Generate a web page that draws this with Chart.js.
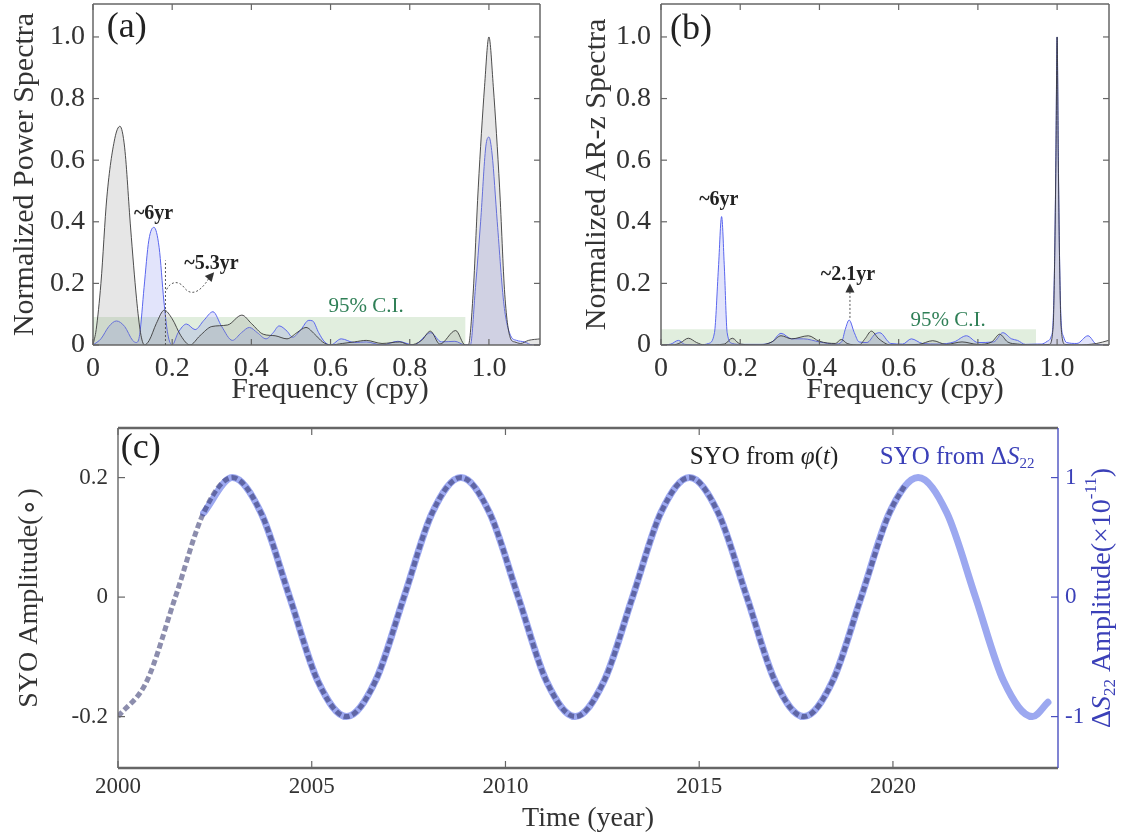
<!DOCTYPE html>
<html>
<head>
<meta charset="utf-8">
<script src="https://cdn.jsdelivr.net/npm/chart.js@4.4.1/dist/chart.umd.min.js"></script>
<style>
  body { margin: 0; background: #fff; width: 1128px; height: 838px; position: relative; overflow: hidden; }
  canvas { position: absolute; }
</style>
</head>
<body>
<canvas id="chartA" width="560" height="410" style="left:0;top:0"></canvas>
<canvas id="chartB" width="568" height="410" style="left:560px;top:0"></canvas>
<canvas id="chartC" width="1128" height="428" style="left:0;top:410px"></canvas>
<script>
// ---- panel (a): normalized power spectra ----
const aGrayFreq = [0, 0.008, 0.02, 0.035, 0.055, 0.068, 0.08, 0.095, 0.11, 0.12, 0.13, 0.142, 0.16, 0.18, 0.2, 0.222, 0.245, 0.27, 0.3, 0.34, 0.376, 0.4, 0.43, 0.46, 0.49, 0.515, 0.538, 0.56, 0.58, 0.6, 0.63, 0.66, 0.69, 0.73, 0.775, 0.8, 0.83, 0.852, 0.876, 0.916, 0.94, 0.948, 0.96, 0.973, 0.989, 1.0, 1.011, 1.027, 1.04, 1.055, 1.065, 1.08, 1.1, 1.13];
const aGrayPow  = [0, 0.05, 0.2, 0.48, 0.67, 0.71, 0.64, 0.38, 0.15, 0.04, 0, 0.015, 0.07, 0.113, 0.085, 0.03, 0, 0.03, 0.06, 0.065, 0.097, 0.07, 0.035, 0.03, 0.02, 0.04, 0.057, 0.035, 0.01, 0, 0.005, 0.01, 0.015, 0.005, 0.01, 0, 0.015, 0.045, 0.003, 0.047, 0, 0, 0.165, 0.51, 0.84, 1.0, 0.84, 0.51, 0.165, 0.02, 0.01, 0.005, 0.015, 0.02];
const aBlueFreq = [0, 0.02, 0.04, 0.059, 0.08, 0.1, 0.11, 0.118, 0.129, 0.141, 0.154, 0.167, 0.179, 0.189, 0.2, 0.215, 0.236, 0.258, 0.28, 0.303, 0.325, 0.352, 0.375, 0.395, 0.415, 0.437, 0.455, 0.47, 0.49, 0.504, 0.525, 0.545, 0.555, 0.57, 0.585, 0.6, 0.627, 0.66, 0.69, 0.73, 0.77, 0.81, 0.853, 0.88, 0.914, 0.94, 0.953, 0.966, 0.979, 0.992, 1.0, 1.008, 1.021, 1.038, 1.055, 1.07, 1.09, 1.11, 1.13];
const aBluePow  = [0, 0.02, 0.06, 0.078, 0.06, 0.015, 0.008, 0.035, 0.187, 0.34, 0.382, 0.317, 0.143, 0.035, 0, 0.04, 0.068, 0.05, 0.08, 0.108, 0.06, 0.015, 0.04, 0.057, 0.04, 0.02, 0.04, 0.062, 0.045, 0.025, 0.05, 0.08, 0.078, 0.04, 0.01, 0, 0.02, 0.008, 0.01, 0, 0.012, 0, 0.04, 0.01, 0.012, 0, 0, 0.187, 0.4, 0.643, 0.675, 0.62, 0.4, 0.13, 0.03, 0.015, 0.01, 0, 0];
const aCiFreq = [0, 0.941];
const aCiLevel = [0.091, 0.091];

// ---- panel (b): normalized AR-z spectra ----
const bGrayFreq = [0, 0.03, 0.05, 0.069, 0.09, 0.11, 0.16, 0.18, 0.2, 0.25, 0.28, 0.303, 0.33, 0.372, 0.4, 0.44, 0.455, 0.47, 0.5, 0.515, 0.531, 0.55, 0.58, 0.65, 0.686, 0.72, 0.76, 0.8, 0.835, 0.855, 0.875, 0.9, 0.95, 0.98, 0.99, 0.994, 0.997, 1.0, 1.003, 1.006, 1.01, 1.02, 1.05, 1.1, 1.13];
const bGrayPow  = [0, 0, 0.008, 0.022, 0.008, 0, 0.003, 0.022, 0.003, 0, 0.01, 0.03, 0.02, 0.03, 0.012, 0.005, 0.018, 0.005, 0, 0.02, 0.045, 0.02, 0, 0.002, 0.014, 0.002, 0.01, 0.002, 0.01, 0.035, 0.01, 0.003, 0, 0.002, 0.06, 0.29, 0.6, 1.0, 0.6, 0.29, 0.06, 0.002, 0, 0.005, 0.015];
const bBlueFreq = [0, 0.025, 0.044, 0.06, 0.1, 0.12, 0.135, 0.145, 0.153, 0.16, 0.167, 0.18, 0.2, 0.25, 0.28, 0.303, 0.33, 0.36, 0.4, 0.44, 0.456, 0.465, 0.475, 0.488, 0.5, 0.52, 0.54, 0.552, 0.58, 0.61, 0.632, 0.66, 0.7, 0.74, 0.771, 0.8, 0.84, 0.863, 0.885, 0.9, 0.92, 0.95, 0.96, 0.975, 0.985, 0.99, 0.994, 0.997, 1.0, 1.003, 1.006, 1.01, 1.016, 1.024, 1.05, 1.078, 1.1, 1.13];
const bBluePow  = [0, 0.003, 0.015, 0.002, 0, 0.005, 0.04, 0.25, 0.417, 0.25, 0.04, 0.005, 0.002, 0.002, 0.01, 0.038, 0.02, 0.02, 0.01, 0.003, 0.01, 0.05, 0.081, 0.04, 0.01, 0.008, 0.035, 0.04, 0.005, 0.003, 0.02, 0.005, 0.003, 0.01, 0.03, 0.008, 0.01, 0.04, 0.02, 0.015, 0.002, 0.003, 0.003, 0.012, 0.028, 0.08, 0.3, 0.62, 1.0, 0.62, 0.3, 0.08, 0.028, 0.008, 0.005, 0.03, 0.002, 0];
const bCiFreq = [0, 0.947];
const bCiLevel = [0.051, 0.051];

const specTicks = [0, 0.2, 0.4, 0.6, 0.8, 1.0];

// ---- panel (c): SYO time series ----
const phiYears = [2000.00, 2000.74, 2001.48, 2002.21, 2002.95, 2003.69, 2004.43, 2005.16, 2005.90, 2006.64, 2007.38, 2008.11, 2008.85, 2009.59, 2010.33, 2011.06, 2011.80, 2012.54, 2013.28, 2014.01, 2014.75, 2015.49, 2016.23, 2016.96, 2017.70, 2018.44, 2019.18, 2019.91, 2020.30];
const phiAmp   = [-0.2, -0.141, 0, 0.141, 0.2, 0.141, 0, -0.141, -0.2, -0.141, 0, 0.141, 0.2, 0.141, 0, -0.141, -0.2, -0.141, 0, 0.141, 0.2, 0.141, 0, -0.141, -0.2, -0.141, 0, 0.141, 0.186];
const s22Years = [2002.21, 2002.95, 2003.69, 2004.43, 2005.16, 2005.90, 2006.64, 2007.38, 2008.11, 2008.85, 2009.59, 2010.33, 2011.06, 2011.80, 2012.54, 2013.28, 2014.01, 2014.75, 2015.49, 2016.23, 2016.96, 2017.70, 2018.44, 2019.18, 2019.91, 2020.65, 2021.39, 2022.13, 2022.86, 2023.60, 2024.00];
const s22Amp   = [0.705, 1, 0.705, 0, -0.705, -1, -0.705, 0, 0.705, 1, 0.705, 0, -0.705, -1, -0.705, 0, 0.705, 1, 0.705, 0, -0.705, -1, -0.705, 0, 0.705, 1, 0.705, 0, -0.705, -1, -0.88];
const yearTicks = [2000, 2005, 2010, 2015, 2020];
const phiTicks = [-0.2, 0, 0.2];
const s22Ticks = [-1, 0, 1];

const SERIF = '"Liberation Serif", "Times New Roman", serif';
Chart.defaults.color = '#333';
Chart.defaults.font.family = SERIF;

const pts = (xs, ys) => xs.map((x, i) => ({ x: x, y: ys[i] }));
const setTicks = list => s => { s.ticks = list.map(v => ({ value: v })); };
// fixed axis sizes, and no extra room for half labels at the ends
const fitV = w => s => { s.width = w; s.paddingTop = 0; s.paddingBottom = 0; };
const fitH = h => s => { s.height = h; s.paddingLeft = 0; s.paddingRight = 0; };

// box frame with inward tick marks on every side
const framePlugin = {
  id: 'frame',
  afterDatasetsDraw(chart, args, o) {
    const { ctx, chartArea: a, scales } = chart;
    const seg = (x1, y1, x2, y2, col, w) => {
      ctx.beginPath(); ctx.strokeStyle = col; ctx.lineWidth = w;
      ctx.moveTo(x1, y1); ctx.lineTo(x2, y2); ctx.stroke();
    };
    const L = o.tick;
    ctx.save();
    scales.x.ticks.forEach(t => {
      const p = scales.x.getPixelForValue(t.value);
      seg(p, a.bottom, p, a.bottom - L, o.color, 1.2);
      seg(p, a.top, p, a.top + L, o.color, 1.2);
    });
    scales.y.ticks.forEach(t => {
      const p = scales.y.getPixelForValue(t.value);
      seg(a.left, p, a.left + L, p, o.color, 1.2);
      if (!scales.y2) seg(a.right, p, a.right - L, p, o.color, 1.2);
    });
    if (scales.y2) {
      scales.y2.ticks.forEach(t => {
        const p = scales.y2.getPixelForValue(t.value);
        seg(a.right, p, a.right - L, p, o.rightColor, 1.2);
      });
    }
    seg(a.left, a.top, a.right, a.top, o.color, o.hWidth);
    seg(a.left, a.bottom, a.right, a.bottom, o.color, o.hWidth);
    seg(a.left, a.top, a.left, a.bottom, o.color, o.vWidth);
    seg(a.right, a.top, a.right, a.bottom, o.rightColor || o.color, o.vWidth);
    ctx.restore();
  }
};

function arrowHead(ctx, x, y, ang, size) {
  ctx.save();
  ctx.setLineDash([]);
  ctx.translate(x, y); ctx.rotate(ang);
  ctx.beginPath();
  ctx.moveTo(0, 0); ctx.lineTo(-size, -size * 0.5); ctx.lineTo(-size, size * 0.5);
  ctx.closePath(); ctx.fill();
  ctx.restore();
}

// text made of pieces (italics, sub/superscripts)
function richWidth(ctx, parts) {
  let w = 0;
  parts.forEach(p => { ctx.font = (p[2] || '') + ' ' + p[1] + 'px ' + SERIF; w += ctx.measureText(p[0]).width; });
  return w;
}
function drawRich(ctx, parts, x, y) {
  let cx = x;
  parts.forEach(p => {
    ctx.font = (p[2] || '') + ' ' + p[1] + 'px ' + SERIF;
    ctx.fillText(p[0], cx, y + (p[3] || 0));
    cx += ctx.measureText(p[0]).width;
  });
}

function spectraChart(id, d) {
  return new Chart(document.getElementById(id), {
    type: 'line',
    data: {
      datasets: [
        { data: pts(d.grayF, d.grayP), borderColor: '#3a3a3a', borderWidth: 0.9,
          backgroundColor: 'rgba(140,140,140,0.22)', fill: 'origin' },
        { data: pts(d.blueF, d.blueP), borderColor: '#5a66ee', borderWidth: 1,
          backgroundColor: 'rgba(110,120,235,0.2)', fill: 'origin' },
        { data: pts(d.ciF, d.ciP), borderColor: 'rgba(0,0,0,0)', borderWidth: 1,
          backgroundColor: 'rgba(170,205,160,0.35)', fill: 'origin', cubicInterpolationMode: 'default', tension: 0 }
      ]
    },
    options: {
      responsive: false,
      animation: false,
      layout: { padding: { top: 4, right: d.padRight, left: 0, bottom: 0 } },
      elements: { point: { radius: 0 }, line: { cubicInterpolationMode: 'monotone' } },
      plugins: {
        legend: { display: false },
        tooltip: { enabled: false },
        frame: { color: '#666', hWidth: 1.5, vWidth: 1.5, tick: 6 }
      },
      scales: {
        x: {
          type: 'linear', min: 0, max: d.xMax,
          grid: { display: false, drawTicks: false }, border: { display: false },
          ticks: { padding: 7, maxRotation: 0, font: { size: 28 }, color: '#333',
                   callback: v => v === 0 ? '0' : v.toFixed(1) },
          afterBuildTicks: setTicks(specTicks),
          afterFit: fitH(65)
        },
        y: {
          min: 0, max: 1.107,
          grid: { display: false, drawTicks: false }, border: { display: false },
          ticks: { padding: d.tickPad, font: { size: 28 }, color: '#333',
                   callback: v => v === 0 ? '0' : v.toFixed(1) },
          afterBuildTicks: setTicks(specTicks),
          afterFit: fitV(d.yWidth),
          title: { display: true, text: d.yTitle, font: { size: 30 }, color: '#333',
                   padding: { top: d.titlePad, bottom: 0 } }
        }
      }
    },
    plugins: [framePlugin, d.notes]
  });
}

const notesA = {
  id: 'notesA',
  afterDatasetsDraw(chart) {
    const { ctx, scales: { x, y } } = chart;
    const P = (f, v) => [x.getPixelForValue(f), y.getPixelForValue(v)];
    ctx.save();
    ctx.textBaseline = 'middle';
    ctx.fillStyle = '#222';
    ctx.textAlign = 'left';
    ctx.font = '36px ' + SERIF;
    ctx.fillText('(a)', ...P(0.035, 1.03));
    ctx.textAlign = 'center';
    ctx.font = 'bold 20px ' + SERIF;
    ctx.fillText('~6yr', ...P(0.153, 0.427));
    ctx.fillText('~5.3yr', ...P(0.299, 0.264));
    ctx.fillStyle = '#2f7f56';
    ctx.font = '21px ' + SERIF;
    ctx.fillText('95% C.I.', ...P(0.69, 0.125));
    // dotted guide + wavy arrow for the 5.3 yr peak
    ctx.strokeStyle = '#555'; ctx.fillStyle = '#333'; ctx.lineWidth = 1; ctx.setLineDash([2, 2]);
    ctx.beginPath(); ctx.moveTo(...P(0.183, 0)); ctx.lineTo(...P(0.183, 0.274)); ctx.stroke();
    ctx.beginPath();
    ctx.moveTo(...P(0.186, 0.18));
    ctx.bezierCurveTo(...P(0.195, 0.205), ...P(0.215, 0.212), ...P(0.23, 0.187));
    ctx.bezierCurveTo(...P(0.245, 0.16), ...P(0.268, 0.165), ...P(0.293, 0.217));
    ctx.stroke();
    const [ax, ay] = P(0.306, 0.236), [bx, by] = P(0.293, 0.217);
    arrowHead(ctx, ax, ay, Math.atan2(ay - by, ax - bx), 9);
    // x title
    ctx.fillStyle = '#333';
    ctx.font = '30px ' + SERIF;
    ctx.fillText('Frequency (cpy)', 330, 390);
    ctx.restore();
  }
};

const notesB = {
  id: 'notesB',
  afterDatasetsDraw(chart) {
    const { ctx, scales: { x, y } } = chart;
    const P = (f, v) => [x.getPixelForValue(f), y.getPixelForValue(v)];
    ctx.save();
    ctx.textBaseline = 'middle';
    ctx.fillStyle = '#222';
    ctx.textAlign = 'left';
    ctx.font = '36px ' + SERIF;
    ctx.fillText('(b)', ...P(0.023, 1.023));
    ctx.textAlign = 'center';
    ctx.font = 'bold 20px ' + SERIF;
    ctx.fillText('~6yr', ...P(0.146, 0.472));
    ctx.fillText('~2.1yr', ...P(0.472, 0.227));
    ctx.fillStyle = '#2f7f56';
    ctx.font = '21px ' + SERIF;
    ctx.fillText('95% C.I.', ...P(0.725, 0.078));
    ctx.strokeStyle = '#555'; ctx.fillStyle = '#333'; ctx.lineWidth = 1; ctx.setLineDash([2, 2]);
    ctx.beginPath(); ctx.moveTo(...P(0.477, 0.088)); ctx.lineTo(...P(0.477, 0.178)); ctx.stroke();
    const [ax, ay] = P(0.477, 0.2);
    arrowHead(ctx, ax, ay, -Math.PI / 2, 9);
    ctx.fillStyle = '#333';
    ctx.font = '30px ' + SERIF;
    ctx.fillText('Frequency (cpy)', 345, 390);
    ctx.restore();
  }
};

spectraChart('chartA', {
  grayF: aGrayFreq, grayP: aGrayPow, blueF: aBlueFreq, blueP: aBluePow, ciF: aCiFreq, ciP: aCiLevel,
  xMax: 1.129, padRight: 20, yWidth: 93, tickPad: 8, titlePad: 7,
  yTitle: 'Normalized Power Spectra', notes: notesA
});
spectraChart('chartB', {
  grayF: bGrayFreq, grayP: bGrayPow, blueF: bBlueFreq, blueP: bBluePow, ciF: bCiFreq, ciP: bCiLevel,
  xMax: 1.131, padRight: 19, yWidth: 101, tickPad: 10, titlePad: 19,
  yTitle: 'Normalized AR-z Spectra', notes: notesB
});

// ---- panel (c) ----
const BLUE_TXT = '#3b40b8';
const notesC = {
  id: 'notesC',
  afterDatasetsDraw(chart) {
    const { ctx, chartArea: a, scales: { x, y } } = chart;
    ctx.save();
    ctx.textBaseline = 'middle';
    ctx.textAlign = 'left';
    ctx.fillStyle = '#222';
    ctx.font = '36px ' + SERIF;
    ctx.fillText('(c)', x.getPixelForValue(2000.07), y.getPixelForValue(0.248));
    const ly = y.getPixelForValue(0.234);
    drawRich(ctx, [['SYO from ', 25], ['\u03c6', 25, 'italic'], ['(', 25], ['t', 25, 'italic'], [')', 25]],
      x.getPixelForValue(2014.755), ly);
    ctx.fillStyle = BLUE_TXT;
    drawRich(ctx, [['SYO from \u0394', 25], ['S', 25, 'italic'], ['22', 15, '', 7]],
      x.getPixelForValue(2019.66), ly);
    // right axis title, read bottom to top
    const parts = [['\u0394', 28], ['S', 28, 'italic'], ['22', 17, '', 8], [' Amplitude(\u00d710', 28], ['-11', 17, '', -11], [')', 28]];
    const w = richWidth(ctx, parts);
    ctx.translate(1103, (a.top + a.bottom) / 2);
    ctx.rotate(-Math.PI / 2);
    drawRich(ctx, parts, -w / 2, 0);
    ctx.restore();
  }
};

new Chart(document.getElementById('chartC'), {
  type: 'line',
  data: {
    datasets: [
      { data: pts(phiYears, phiAmp), yAxisID: 'y', borderColor: 'rgba(45,48,105,0.55)', borderWidth: 5,
        borderDash: [6, 3], fill: false },
      { data: pts(s22Years, s22Amp), yAxisID: 'y2', borderColor: '#9ca8f0', borderWidth: 7,
        borderCapStyle: 'round', fill: false }
    ]
  },
  options: {
    responsive: false,
    animation: false,
    layout: { padding: { top: 18, left: 0, right: 0, bottom: 0 } },
    elements: { point: { radius: 0 }, line: { cubicInterpolationMode: 'monotone' } },
    plugins: {
      legend: { display: false },
      tooltip: { enabled: false },
      frame: { color: '#666', rightColor: '#4a50c0', hWidth: 2.5, vWidth: 1.4, tick: 7 }
    },
    scales: {
      x: {
        type: 'linear', min: 2000, max: 2024.26,
        grid: { display: false, drawTicks: false }, border: { display: false },
        ticks: { padding: 5, maxRotation: 0, font: { size: 23 }, color: '#333', callback: v => String(v) },
        afterBuildTicks: setTicks(yearTicks),
        afterFit: fitH(70),
        title: { display: true, text: 'Time (year)', font: { size: 28 }, color: '#333', padding: { top: 0, bottom: 3 } }
      },
      y: {
        position: 'left', min: -0.286, max: 0.283,
        grid: { display: false, drawTicks: false }, border: { display: false },
        ticks: { padding: 10, font: { size: 23 }, color: '#333', callback: v => v === 0 ? '0' : v.toFixed(1) },
        afterBuildTicks: setTicks(phiTicks),
        afterFit: fitV(118),
        title: { display: true, text: 'SYO Amplitude(\u2218)', font: { size: 28 }, color: '#333', padding: { top: 13, bottom: 0 } }
      },
      y2: {
        position: 'right', min: -1.43, max: 1.415,
        grid: { display: false, drawTicks: false }, border: { display: false },
        ticks: { padding: 7, font: { size: 23 }, color: BLUE_TXT, callback: v => String(v) },
        afterBuildTicks: setTicks(s22Ticks),
        afterFit: fitV(70)
      }
    }
  },
  plugins: [framePlugin, notesC]
});
</script>
</body>
</html>
